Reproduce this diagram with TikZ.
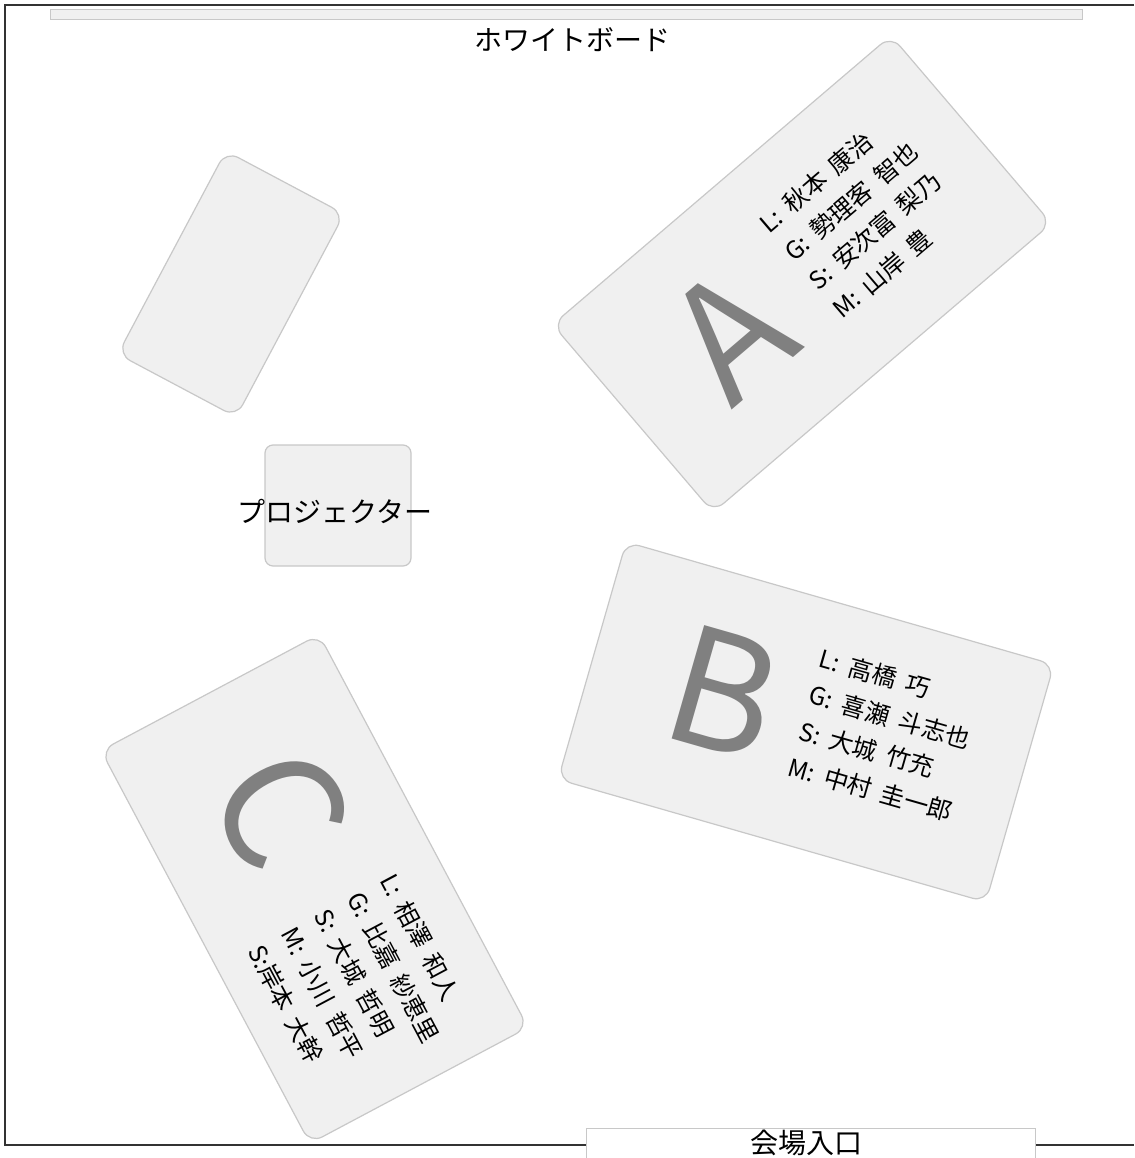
\documentclass[tikz,border=0pt]{standalone}
\usepackage{fontspec}
\setmainfont{Noto Sans CJK JP}
\definecolor{tablefill}{HTML}{F0F0F0}
\definecolor{tableline}{HTML}{C8C8C8}
\definecolor{wallcol}{HTML}{333333}
\definecolor{lettercol}{HTML}{808080}
\newcommand{\nsp}{\hspace{10pt}}
\tikzset{
  furniture/.style={rectangle, draw=tableline, fill=tablefill, line width=1.2pt,
    rounded corners=14pt, inner sep=0pt, outer sep=0pt},
  tablebox/.style={furniture, minimum width=445pt, minimum height=247pt},
  bigletter/.style={inner sep=0pt, text=lettercol, anchor=base,
    font=\fontsize{161}{161}\selectfont},
  names/.style={inner sep=0pt, align=left, anchor=north west,
    font=\fontsize{24.5}{37.5}\selectfont},
  roomlabel/.style={inner sep=0pt, font=\fontsize{28}{28}\selectfont},
  wallline/.style={draw=wallcol, line width=1.5pt},
}
\begin{document}
\begin{tikzpicture}[x=1pt,y=1pt]
\useasboundingbox (0,0) rectangle (1134,-1158);
\fill[white] (0,0) rectangle (1134,-1158);

% walls
\draw[wallline] (1134,-5) -- (5,-5) -- (5,-1145) -- (586,-1145);
\draw[wallline] (1035,-1145) -- (1134,-1145);

% whiteboard
\node[furniture, rounded corners=0pt, line width=1pt, minimum width=1032pt, minimum height=9.5pt] (wb) at (566,-14.5) {};
\node[roomlabel] (wblabel) at (572,-40) {ホワイトボード};

% empty table
\node[furniture, minimum width=134pt, minimum height=230pt, rotate=-28] (tD) at (231,-284) {};

% projector
\node[furniture, rounded corners=8pt, minimum width=146pt, minimum height=121pt] (proj) at (338,-505.5) {};
\node[roomlabel] (projlabel) at (335,-511) {プロジェクター};

% table A
\node[tablebox, rotate=40.5] (tA) at (802,-274) {};
\begin{scope}[shift={(802,-274)}, rotate=40.5, transform shape]
  \node[bigletter] (lA) at (-93,-58) {A};
  \node[names] (nA) at (1,72) {L:\nsp 秋本\nsp 康治\\G:\nsp 勢理客\nsp 智也\\S:\nsp 安次富\nsp 梨乃\\M:\nsp 山岸\nsp 豊};
\end{scope}

% table B
\node[tablebox, rotate=-16] (tB) at (806,-722) {};
\begin{scope}[shift={(806,-722)}, rotate=-16, transform shape]
  \node[bigletter] (lB) at (-87,-53) {B};
  \node[names] (nB) at (-4,77) {L:\nsp 高橋\nsp 巧\\G:\nsp 喜瀬\nsp 斗志也\\S:\nsp 大城\nsp 竹充\\M:\nsp 中村\nsp 圭一郎};
\end{scope}

% table C
\node[tablebox, rotate=-62] (tC) at (314.5,-889) {};
\begin{scope}[shift={(314.5,-889)}, rotate=-62, transform shape]
  \node[bigletter] (lC) at (-87,-51) {C};
  \node[names] (nC) at (23,82) {L:\nsp 相澤\nsp 和人\\G:\nsp 比嘉\nsp 紗恵里\\S:\nsp 大城\nsp 哲明\\M:\nsp 小川\nsp 哲平\\S:岸本\nsp 大幹};
\end{scope}

% entrance
\begin{scope}
  \clip (0,0) rectangle (1134,-1158);
  \node[furniture, rounded corners=0pt, fill=white, line width=1pt, minimum width=449pt, minimum height=44pt] (ent) at (810.5,-1150) {};
\end{scope}
\node[roomlabel] (entlabel) at (806,-1143) {会場入口};
\end{tikzpicture}
\end{document}
